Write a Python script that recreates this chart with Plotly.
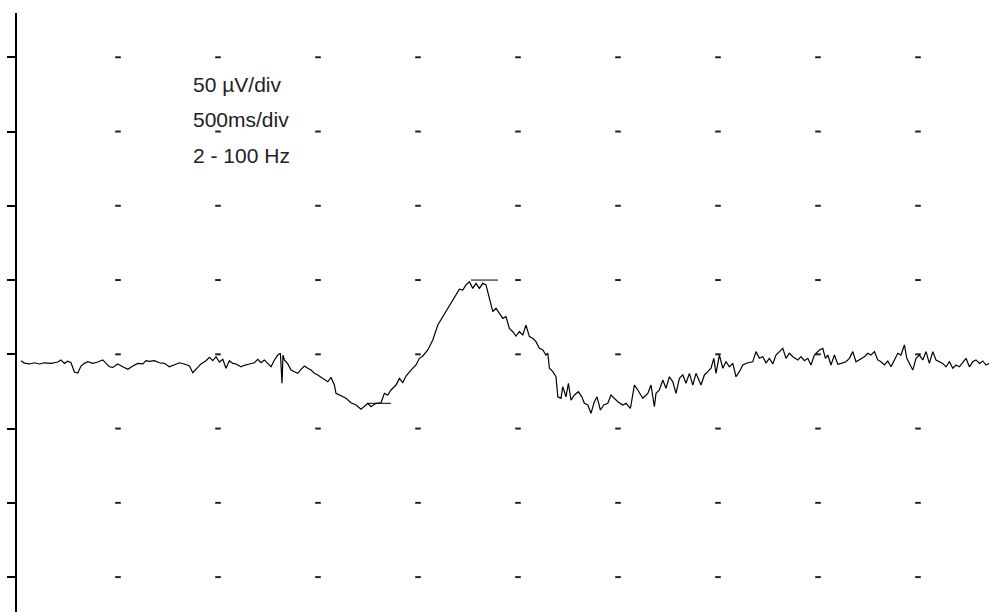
import plotly.graph_objects as go

# Trace: time (ms) and amplitude (µV)
time_ms = [15, 32, 57, 82, 107, 132, 165, 199, 215, 232, 249, 265, 282, 299, 315, 332, 349, 374, 399, 424,
           440, 457, 474, 499, 524, 549, 574, 599, 624, 640, 657, 682, 707, 732, 757,
           782, 807, 832, 857, 874, 890, 915, 940, 957, 974, 990, 1007, 1024, 1040, 1057, 1074, 1090, 1115,
           1132, 1157, 1182, 1199, 1215, 1232, 1249, 1265, 1282, 1299, 1312, 1320, 1325, 1332, 1349, 1365,
           1382, 1399, 1415, 1432, 1449, 1465, 1482, 1499, 1515, 1532, 1549, 1565,
           1582, 1590, 1615, 1640, 1665, 1690, 1715, 1732, 1749, 1765, 1790, 1815, 1832, 1849, 1865, 1890,
           1907, 1924, 1940, 1965, 1990, 2007, 2024, 2049, 2074, 2099, 2124, 2149, 2165, 2190, 2207, 2224,
           2240, 2257, 2274, 2290, 2307, 2324, 2340, 2357, 2374,
           2390, 2407, 2424, 2440, 2457, 2474, 2490, 2507, 2524, 2540, 2557, 2574, 2590, 2607, 2624, 2640,
           2649, 2657, 2674, 2690, 2699, 2715, 2724, 2740, 2752, 2765, 2782, 2802, 2819, 2832, 2849, 2865,
           2882, 2895, 2912, 2929, 2949, 2965, 2982, 2999, 3024, 3040, 3062, 3082, 3099, 3124, 3149, 3165, 3182,
           3190, 3207, 3224, 3240, 3257, 3274, 3290, 3307, 3324, 3340, 3357, 3374, 3390, 3415, 3432, 3449,
           3465, 3479, 3490, 3507, 3524, 3540, 3557, 3574, 3590, 3607, 3624, 3649, 3674, 3690, 3707, 3724,
           3740, 3757, 3774, 3790, 3807, 3824, 3840, 3857, 3874, 3899, 3915, 3932, 3949, 3965, 3982,
           3990, 4007, 4024, 4037, 4049, 4065, 4082, 4099, 4115, 4140, 4157, 4174, 4190, 4207, 4232, 4249,
           4265, 4282, 4299, 4315, 4332, 4349, 4365, 4382, 4399, 4415, 4432, 4444, 4457, 4474, 4490, 4507,
           4524, 4540, 4557, 4574, 4590, 4607, 4624, 4640, 4657, 4674, 4690, 4707, 4724, 4740, 4757, 4774,
           4790, 4807, 4824, 4840, 4857]
amp_uv = [-4.3, -5.9, -6.5, -5.7, -6.5, -5.7, -6.1, -5.2, -3.8, -6.1, -4.7, -5.7, -11.9, -12.6, -7.9, -6.1,
          -5.0, -6.1, -5.2, -3.8, -6.1, -8.4, -8.8, -6.5, -8.4, -10.1, -7.9, -6.1, -6.5, -4.3, -4.7, -4.3,
          -5.7, -6.1, -8.4,
          -7.2, -5.7, -6.5, -7.9, -12.4, -10.1, -6.5, -4.3, -2.0, -4.3, -1.6, -5.2, -3.4, -9.4, -4.3, -6.1,
          -6.5, -8.4, -7.4, -6.5, -5.7, -3.4, -5.7, -3.8, -6.5, -8.4, -3.8, -0.5, 0.7, -19.5, -0.5, -3.8,
          -6.5, -10.6, -11.7, -12.8, -10.1, -7.9, -9.4, -10.6, -12.8, -13.9, -15.5, -16.8, -18.5, -15.5,
          -20.7, -26.3, -28.1, -29.6, -32.6, -34.1, -37.0, -35.3, -33.0, -35.3, -33.0, -32.6, -26.3, -27.4,
          -24.0, -20.7, -16.2, -19.1, -14.6, -10.6, -7.2, -2.7, -1.1, 2.9, 9.6, 19.7, 25.3, 30.3, 34.3,
          39.9, 43.8, 43.3, 46.7, 48.9, 44.4, 47.8, 44.4, 47.8, 46.7, 37.7, 28.7,
          31.0, 27.6, 24.2, 25.3, 17.5, 15.2, 12.3, 15.2, 13.0, 19.7, 11.9, 10.8, 8.5, 4.0, 2.9, -0.5,
          0.7, -9.4, -11.7, -15.1, -28.6, -29.6, -21.8, -28.6, -19.5, -30.8, -27.4, -25.2, -28.6, -33.0,
          -34.1, -39.7, -31.9, -28.6, -37.5, -34.1, -33.0, -27.4, -29.6, -31.9, -34.1, -33.0, -36.4, -20.7,
          -24.0, -29.6, -26.3, -20.7, -35.3,
          -26.3, -24.0, -17.3, -22.9, -15.1, -18.5, -26.3, -16.2, -13.9, -19.5, -12.8, -20.7, -12.8, -20.7,
          -13.9, -11.7, -9.4, -2.7, -12.8, -0.5, -9.4, -5.0, -8.4, -6.1, -15.1, -11.7, -7.2, -5.7, -5.0,
          1.8, -2.7, -1.6, -5.7, -2.7, -6.5, -0.5, 1.8, 4.0, -2.7, 0.7, -1.6, -3.8, -1.6, -4.3, -2.7, -7.2,
          -0.5,
          0.7, 2.9, 4.0, -2.7, -0.5, -7.2, -0.5, -6.7, -6.1, -5.0, -2.7, 1.8, -5.0, -3.8, -1.6, 0.7, -0.5,
          1.8, -3.8, -5.0, -7.2, -4.5, -8.4, -3.8, 0.7, -0.5, 6.3, -2.7, -6.1, -10.6, -2.7, -0.5, -3.8,
          1.8, -6.1, 1.8, -3.8, -5.0, -6.1, -8.4, -5.0, -9.4, -7.2, -8.4, -5.0, -2.7, -8.4, -5.0, -3.8,
          -6.1, -4.5, -7.2, -6.1]

# Measurement markers (trough and peak)
trough_t = [1750, 1865]
trough_v = [-33.0, -33.0]
peak_t = [2265, 2400]
peak_v = [50.0, 50.0]

# Grid (500 ms/div, 50 µV/div)
grid_t = [500, 1000, 1500, 2000, 2500, 3000, 3500, 4000, 4500]
grid_v = [-150, -100, -50, 0, 50, 100, 150, 200]

label_lines = ["50 µV/div", "500ms/div", "2 - 100 Hz"]
label_y = [0.8798, 0.8214, 0.7613]

dot_x = [t for t in grid_t for v in grid_v]
dot_y = [v for t in grid_t for v in grid_v]

fig = go.Figure()
fig.add_trace(go.Scatter(x=dot_x, y=dot_y, mode="markers",
                         marker=dict(symbol="line-ew", size=4, line=dict(width=2, color="#222")),
                         hoverinfo="skip"))
fig.add_trace(go.Scatter(x=time_ms, y=amp_uv, mode="lines", line=dict(color="black", width=1.2)))
fig.add_trace(go.Scatter(x=trough_t, y=trough_v, mode="lines", line=dict(color="black", width=1)))
fig.add_trace(go.Scatter(x=peak_t, y=peak_v, mode="lines", line=dict(color="black", width=1)))

for txt, yy in zip(label_lines, label_y):
    fig.add_annotation(xref="paper", yref="paper", x=0.180, y=yy, xanchor="left", yanchor="middle",
                       text=txt, showarrow=False, align="left", borderpad=0,
                       font=dict(family="Liberation Sans, Arial, sans-serif", size=21, color="#222"))

fig.update_layout(
    width=989, height=612,
    margin=dict(l=17, r=0, t=13, b=0),
    paper_bgcolor="white", plot_bgcolor="white",
    showlegend=False,
    xaxis=dict(range=[-5, 4855], showline=False, showgrid=False, zeroline=False,
               showticklabels=False, ticks=""),
    yaxis=dict(range=[-173.5, 229.8], showline=True, linecolor="black", linewidth=2,
               showgrid=False, zeroline=False, showticklabels=False,
               ticks="outside", tickvals=grid_v, ticklen=8, tickwidth=2, tickcolor="black"),
)

fig.write_html("out.html", config={"displayModeBar": False},
               post_script="document.body.style.margin='0';document.body.style.overflow='hidden';")
